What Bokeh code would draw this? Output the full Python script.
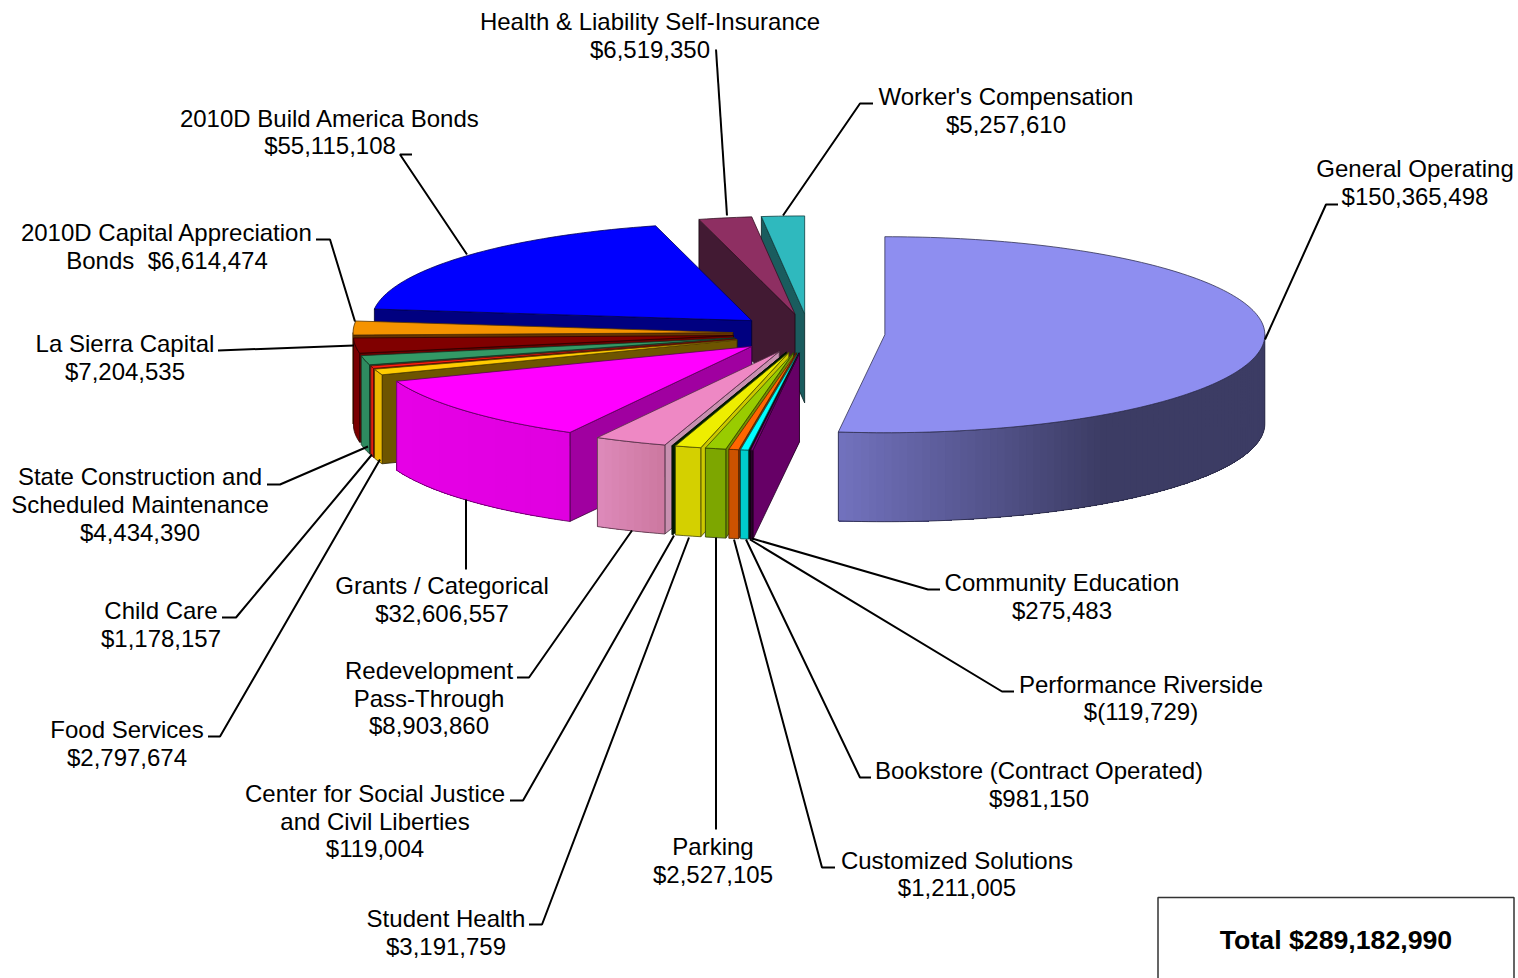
import math
from bokeh.plotting import figure
from bokeh.models import Range1d
from bokeh.core.properties import value
from bokeh.embed import file_html
from bokeh.resources import INLINE

# ---- data, clockwise from 12 o'clock ----
names = ["General Operating", "Community Education", "Performance Riverside",
         "Bookstore (Contract Operated)", "Customized Solutions", "Parking",
         "Student Health", "Center for Social Justice", "Redevelopment Pass-Through",
         "Grants / Categorical", "Food Services", "Child Care",
         "State Construction", "La Sierra Capital", "2010D Capital Appreciation",
         "2010D Build America Bonds", "Health & Liability", "Worker's Compensation"]
amounts = [150365498, 275483, -119729, 981150, 1211005, 2527105, 3191759, 119004,
           8903860, 32606557, 2797674, 1178157, 4434390, 7204535, 6614474,
           55115108, 6519350, 5257610]
total_text = "Total $289,182,990"

# top colour, wall colour (left), wall colour (right), start-face colour
top_colors = ["#8E8EF0", "#800080", "#1A1A1A", "#00FFFF", "#FF6600", "#99CC00",
              "#EEEE00", "#003300", "#EE88C4", "#FF00FF", "#FFCC00", "#FF2010",
              "#339966", "#800000", "#F59300", "#0000FF", "#8E2F62", "#2FB9BE"]
wall_left = ["#7272BE", "#300030", "#101010", "#00CCCC", "#CC5200", "#7DA600",
             "#D4D000", "#002200", "#DE8ABA", "#E600E6", "#EAB800", "#E02010",
             "#2E8B60", "#7A0000", "#E68A00", "#000080", "#421A33", "#1A5C5E"]
wall_right = ["#3C3C64", "#300030", "#101010", "#00CCCC", "#CC5200", "#7DA600",
              "#D4D000", "#002200", "#CC78A0", "#E000E0", "#EAB800", "#E02010",
              "#2E8B60", "#7A0000", "#E68A00", "#000080", "#421A33", "#1A5C5E"]
face_colors = ["#3C3C64", "#660066", "#101010", "#009999", "#803300", "#6F8F00",
               "#CCC800", "#002200", "#C890B0", "#A000A0", "#6E5500", "#800000",
               "#1F6644", "#6A0000", "#663300", "#000080", "#421A33", "#1A5C5E"]


# ---- labels: (lines, centre x, y of each line) ----
def money(v):
    return f"$({-v:,})" if v < 0 else f"${v:,}"


labels = [
    (["General Operating", money(amounts[0])], 1415, [169, 197]),
    (["Community Education", money(amounts[1])], 1062, [583, 611]),
    (["Performance Riverside", money(amounts[2])], 1141, [685, 712]),
    (["Bookstore (Contract Operated)", money(amounts[3])], 1039, [771, 799]),
    (["Customized Solutions", money(amounts[4])], 957, [861, 888]),
    (["Parking", money(amounts[5])], 713, [847, 875]),
    (["Student Health", money(amounts[6])], 446, [919, 947]),
    (["Center for Social Justice", "and Civil Liberties", money(amounts[7])], 375, [794, 822, 849]),
    (["Redevelopment", "Pass-Through", money(amounts[8])], 429, [671, 699, 726]),
    (["Grants / Categorical", money(amounts[9])], 442, [586, 614]),
    (["Food Services", money(amounts[10])], 127, [730, 758]),
    (["Child Care", money(amounts[11])], 161, [611, 639]),
    (["State Construction and", "Scheduled Maintenance", money(amounts[12])], 140, [477, 505, 533]),
    (["La Sierra Capital", money(amounts[13])], 125, [344, 372]),
    (["2010D Capital Appreciation", "Bonds \u00a0" + money(amounts[14])], 167, [233, 261]),
    (["2010D Build America Bonds", money(amounts[15])], 330, [119, 146]),
    (["Health & Liability Self-Insurance", money(amounts[16])], 650, [22, 50]),
    (["Worker's Compensation", money(amounts[17])], 1006, [97, 125]),
]

leaders = [
    ([1338, 1326, 1265], [205, 205, 340]),
    ([940, 928, 752], [590, 590, 539]),
    ([1014, 1002, 750], [692, 692, 540]),
    ([871, 860, 746], [778, 778, 540]),
    ([835, 822, 734], [868, 868, 540]),
    ([716, 716], [830, 538]),
    ([529, 542, 689], [925, 925, 538]),
    ([510, 523, 674], [801, 801, 536]),
    ([517, 529, 632], [678, 678, 531]),
    ([466, 466], [570, 500]),
    ([208, 220, 380], [737, 737, 460]),
    ([222, 236, 372], [618, 618, 455]),
    ([267, 280, 368], [485, 485, 447]),
    ([218, 354], [351, 346]),
    ([316, 330, 355], [240, 240, 322]),
    ([412, 400, 467], [155, 155, 255]),
    ([716, 727], [50, 216]),
    ([873, 860, 783], [104, 104, 216]),
]

# ---- pie geometry ----
CX, CY, RX, RY, DEPTH, EXPLODE = 809.0, 334.0, 380.0, 98.0, 89.0, 76.0


def hex2rgb(h):
    return [int(h[i:i + 2], 16) for i in (1, 3, 5)]


def mix(a, b, t):
    ca, cb = hex2rgb(a), hex2rgb(b)
    return "#%02X%02X%02X" % tuple(int(round(x + (y - x) * t)) for x, y in zip(ca, cb))


def dark(h):
    return mix(h, "#000000", 0.65)


def arc(ax, ay, t1, t2, n):
    xs, ys = [], []
    for i in range(n + 1):
        t = t1 + (t2 - t1) * i / n
        xs.append(ax + RX * math.sin(t))
        ys.append(ay - RY * math.cos(t))
    return xs, ys


mags = [abs(a) for a in amounts]
whole = sum(mags)
starts, cum = [], 0.0
for m in mags:
    starts.append(cum / whole * 2 * math.pi)
    cum += m
ends = starts[1:] + [2 * math.pi]

px, py, pfill, pline = [], [], [], []


def add(xs, ys, fill, line=None):
    px.append(list(xs))
    py.append(list(ys))
    pfill.append(fill)
    pline.append(line)


def draw_slice(i):
    t1, t2 = starts[i], ends[i]
    mid = (t1 + t2) / 2
    ax = CX + EXPLODE * math.sin(mid)
    ay = CY - EXPLODE * RY / RX * math.cos(mid)
    edge = dark(top_colors[i])
    # radial face at the start of the slice
    if math.sin(t1) < 0:
        ex, ey = ax + RX * math.sin(t1), ay - RY * math.cos(t1)
        add([ax, ex, ex, ax], [ay, ey, ey + DEPTH, ay + DEPTH], face_colors[i], dark(face_colors[i]))
    # outer wall
    w1, w2 = max(t1, math.pi / 2), min(t2, 1.5 * math.pi)
    if w2 > w1:
        n = max(2, int((w2 - w1) / 0.02))
        xs, ys = arc(ax, ay, w1, w2, n)
        outline = xs + xs[::-1], ys + [y + DEPTH for y in ys[::-1]]
        if wall_left[i] != wall_right[i]:
            span = (max(xs) - min(xs)) or 1.0
            # overlapping bands painted from the far end, so that no seams show
            for k in range(n):
                x_mid = 0.5 * (xs[k] + xs[k + 1])
                t = (max(xs) - x_mid) / span
                s = min(1.0, (1 - t) / 0.62) if i == 0 else 1 - t
                c = mix(wall_left[i], wall_right[i], s)
                add(xs[k:] + xs[k:][::-1], ys[k:] + [y + DEPTH for y in ys[k:][::-1]], c, None)
            add(outline[0], outline[1], None, dark(wall_left[i]))
        else:
            add(outline[0], outline[1], wall_left[i], dark(wall_left[i]))
    # top surface
    n = max(2, int((t2 - t1) / 0.02))
    xs, ys = arc(ax, ay, t1, t2, n)
    add([ax] + xs, [ay] + ys, top_colors[i], edge)


draw_slice(0)
for i in range(len(amounts) - 1, 0, -1):
    draw_slice(i)

# ---- figure ----
p = figure(width=1518, height=978, output_backend="svg", toolbar_location=None,
           x_range=Range1d(0.5, 1518.5), y_range=Range1d(979, 1), min_border=0)
p.axis.visible = False
p.grid.visible = False
p.outline_line_color = None
p.background_fill_color = "white"

for xs, ys, f, l in zip(px, py, pfill, pline):
    if f is None:
        p.patch(xs, ys, fill_alpha=0, line_color=l, line_width=0.8)
    elif l is None:
        p.patch(xs, ys, fill_color=f, line_alpha=0)
    else:
        p.patch(xs, ys, fill_color=f, line_color=l, line_width=0.8)

for lx, ly in leaders:
    p.line(lx, ly, line_color="black", line_width=2)

txt, tx, ty = [], [], []
for lines, cx, yy in labels:
    for s, y in zip(lines, yy):
        txt.append(s)
        tx.append(cx)
        ty.append(y)
p.text(tx, ty, text=txt, text_font=value("Liberation Sans"), text_font_size="24px",
       text_align="center", text_baseline="middle", text_color="black")

p.line([1158, 1158, 1514, 1514], [979, 898, 898, 979], line_color="#333333", line_width=1.5)
p.text([1336], [940], text=[total_text], text_font=value("Liberation Sans"), text_font_size="26.7px",
       text_font_style="bold", text_align="center", text_baseline="middle", text_color="black")

open("out.html", "w").write(file_html(p, INLINE))
